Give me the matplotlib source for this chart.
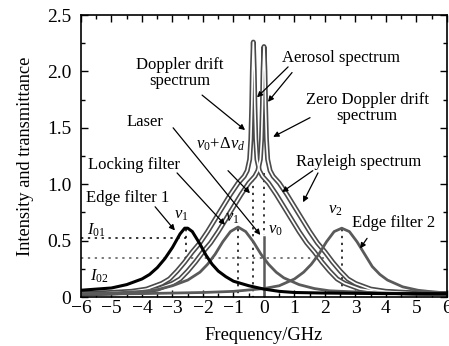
import matplotlib
matplotlib.use("Agg")
import matplotlib.pyplot as plt
from matplotlib.ticker import MultipleLocator

plt.rcParams["font.family"] = ["Liberation Serif", "DejaVu Serif"]
plt.rcParams["mathtext.fontset"] = "custom"
plt.rcParams["mathtext.rm"] = "Liberation Serif"
plt.rcParams["mathtext.it"] = "Liberation Serif:italic"

# --- data ---
edge1_freq = [-6, -5.5, -5, -4.5, -4, -3.75, -3.5, -3.25, -3, -2.75, -2.6, -2.5, -2.35,
              -2.1, -1.9, -1.7, -1.5, -1.25, -1, -0.5, 0, 0.5, 1, 2, 4, 6]
edge1_val = [0.06, 0.07, 0.08, 0.11, 0.16, 0.2, 0.26, 0.34, 0.44, 0.56, 0.61, 0.61, 0.58,
             0.47, 0.37, 0.29, 0.23, 0.18, 0.14, 0.10, 0.07, 0.05, 0.04, 0.035, 0.03, 0.03]

lock_freq = [-6, -5, -4, -3.5, -3, -2.5, -2.1, -1.85, -1.6, -1.35, -1.1, -0.85, -0.6,
             -0.35, -0.1, 0.15, 0.4, 0.65, 1.15, 1.65, 2.15, 3, 4, 5, 6]
lock_val = [0.03, 0.035, 0.05, 0.065, 0.1, 0.15, 0.22, 0.29, 0.38, 0.49, 0.58, 0.62, 0.58,
            0.49, 0.38, 0.29, 0.22, 0.17, 0.11, 0.075, 0.055, 0.045, 0.035, 0.03, 0.03]

edge2_freq = [-6, -4, -2, -1, 0, 0.5, 1, 1.3, 1.55, 1.8, 2.05, 2.3, 2.55, 2.8, 3.05,
              3.3, 3.55, 3.8, 4.05, 4.55, 5.05, 5.55, 6]
edge2_val = [0.025, 0.03, 0.04, 0.05, 0.075, 0.1, 0.16, 0.22, 0.29, 0.38, 0.49, 0.58, 0.61,
             0.58, 0.49, 0.38, 0.27, 0.2, 0.15, 0.09, 0.06, 0.045, 0.035]

laser_freq = [0, 0]
laser_val = [0, 0.53]

zero_freq = [-6, -5, -4, -3.5, -3, -2.75, -2.5, -2.25, -2, -1.75, -1.5, -1.25, -1, -0.75,
             -0.5, -0.3, -0.2, -0.12, -0.08, -0.05, -0.03, 0, 0.03, 0.05, 0.08, 0.12, 0.2,
             0.3, 0.5, 0.75, 1, 1.25, 1.5, 1.75, 2, 2.25, 2.5, 2.75, 3, 3.5, 4, 5, 6]
zero_val = [0.03, 0.035, 0.05, 0.07, 0.12, 0.16, 0.23, 0.31, 0.4, 0.48, 0.58, 0.69, 0.8, 0.91,
            1.01, 1.07, 1.12, 1.22, 1.4, 1.7, 2.0, 2.22, 2.0, 1.7, 1.4, 1.22, 1.12,
            1.07, 1.01, 0.91, 0.8, 0.69, 0.58, 0.48, 0.4, 0.31, 0.23, 0.16, 0.12, 0.07, 0.05, 0.035, 0.03]

drift_freq = [-6, -5.35, -4.35, -3.85, -3.35, -3.1, -2.85, -2.6, -2.35, -2.1, -1.85, -1.6,
              -1.35, -1.1, -0.85, -0.65, -0.55, -0.47, -0.43, -0.4, -0.38, -0.35, -0.32,
              -0.3, -0.27, -0.23, -0.15, -0.05, 0.15, 0.4, 0.65, 0.9, 1.15, 1.4, 1.65, 1.9,
              2.15, 2.4, 2.65, 3.15, 3.65, 4.65, 6]
drift_val = [0.03, 0.035, 0.05, 0.07, 0.12, 0.16, 0.23, 0.31, 0.4, 0.48, 0.58, 0.69,
             0.8, 0.91, 1.01, 1.07, 1.12, 1.22, 1.4, 1.7, 2.0, 2.26, 2.0,
             1.7, 1.4, 1.22, 1.12, 1.07, 1.01, 0.91, 0.8, 0.69, 0.58, 0.48, 0.4, 0.31,
             0.23, 0.16, 0.12, 0.07, 0.05, 0.035, 0.03]

x_ticks = [-6, -5, -4, -3, -2, -1, 0, 1, 2, 3, 4, 5, 6]
y_ticks = [0, 0.5, 1.0, 1.5, 2.0, 2.5]
y_tick_labels = ["0", "0.5", "1.0", "1.5", "2.0", "2.5"]

fig = plt.figure(figsize=(4.49, 3.46), dpi=100)
ax = fig.add_axes([0.1804, 0.1416, 0.8151, 0.815])

gray = "#4a4a4a"
dot = (0, (1.5, 3))

# reference levels and marker lines
ax.plot([-6, -2.55], [0.52, 0.52], color="k", lw=1.1, ls=dot)
ax.plot([-6, 2.0], [0.35, 0.35], color="#555555", lw=1.1, ls=dot)
ax.plot([-2.55, -2.55], [0.6, 0.35], color="k", lw=1.1, ls=dot)
ax.plot([-0.85, -0.85], [0.6, 0], color="k", lw=1.1, ls=dot)
ax.plot([-0.35, -0.35], [1.05, 0], color="k", lw=1.1, ls=dot)
ax.plot([0, 0], [1.1, 0.55], color="k", lw=1.1, ls=dot)
ax.plot([2.55, 2.55], [0.6, 0], color="k", lw=1.1, ls=dot)

# hollow-looking broad spectra
for fx, fy in [(drift_freq, drift_val), (zero_freq, zero_val)]:
    ax.plot(fx, fy, color=gray, lw=3.6, solid_joinstyle="round")
for fx, fy in [(drift_freq, drift_val), (zero_freq, zero_val)]:
    ax.plot(fx, fy, color="white", lw=1.2, solid_joinstyle="round")

ax.plot(lock_freq, lock_val, color="#5a5a5a", lw=2.0)
ax.plot(edge2_freq, edge2_val, color="#5a5a5a", lw=2.0)
ax.plot(laser_freq, laser_val, color="#5a5a5a", lw=1.8)
ax.plot(edge1_freq, edge1_val, color="k", lw=2.2)

ax.set_xlim(-6, 6)
ax.set_ylim(0, 2.5)
ax.set_xticks(x_ticks)
ax.set_yticks(y_ticks)
ax.set_yticklabels(y_tick_labels)
ax.xaxis.set_minor_locator(MultipleLocator(0.5))
ax.yaxis.set_minor_locator(MultipleLocator(0.25))
ax.tick_params(which="both", direction="in", top=True, right=True, width=1.0)
ax.tick_params(which="major", length=5, labelsize=14)
ax.tick_params(axis="x", which="major", pad=2)
ax.tick_params(axis="y", which="major", pad=7)
ax.tick_params(which="minor", length=3)
for s in ax.spines.values():
    s.set_linewidth(1.2)

ax.set_xlabel("Frequency/GHz", fontsize=13.3, labelpad=7)
ax.set_ylabel("Intensity and transmittance", fontsize=13.2, labelpad=9)

fs = 12
arrow = dict(arrowstyle="-|>", lw=0.9, color="k", mutation_scale=8, shrinkA=0, shrinkB=0)

ax.text(-2.75, 1.99, "Doppler drift\nspectrum", fontsize=fs, ha="center", va="center", linespacing=1.0)
ax.annotate("", xy=(-0.62, 1.48), xytext=(-2.03, 1.79), arrowprops=arrow)

ax.text(2.52, 2.12, "Aerosol spectrum", fontsize=fs, ha="center", va="center")
ax.annotate("", xy=(-0.23, 1.77), xytext=(0.79, 2.04), arrowprops=arrow)
ax.annotate("", xy=(0.13, 1.73), xytext=(0.92, 1.99), arrowprops=arrow)

ax.text(3.38, 1.68, "Zero Doppler drift\nspectrum", fontsize=fs, ha="center", va="center", linespacing=1.0)
ax.annotate("", xy=(0.3, 1.42), xytext=(1.51, 1.59), arrowprops=arrow)

ax.text(-3.9, 1.55, "Laser", fontsize=fs, ha="center", va="center")
ax.annotate("", xy=(-0.12, 0.55), xytext=(-2.98, 1.5), arrowprops=arrow)

ax.text(-4.26, 1.17, "Locking filter", fontsize=fs, ha="center", va="center")
ax.annotate("", xy=(-1.28, 0.64), xytext=(-2.85, 1.1), arrowprops=arrow)

ax.text(-1.41, 1.35, r"$\nu_0\!+\!\Delta\nu_d$", fontsize=fs, ha="center", va="center")
ax.annotate("", xy=(-0.46, 0.92), xytext=(-1.18, 1.12), arrowprops=arrow)

ax.text(3.09, 1.2, "Rayleigh spectrum", fontsize=fs, ha="center", va="center")
ax.annotate("", xy=(0.59, 0.93), xytext=(1.6, 1.12), arrowprops=arrow)
ax.annotate("", xy=(1.28, 0.84), xytext=(1.77, 1.1), arrowprops=arrow)

ax.text(-4.46, 0.88, "Edge filter 1", fontsize=fs, ha="center", va="center")
ax.annotate("", xy=(-2.92, 0.59), xytext=(-3.57, 0.8), arrowprops=arrow)

ax.text(4.26, 0.66, "Edge filter 2", fontsize=fs, ha="center", va="center")
ax.annotate("", xy=(3.15, 0.43), xytext=(3.38, 0.52), arrowprops=arrow)

ax.text(-2.7, 0.73, r"$\nu_1$", fontsize=fs, ha="center", va="center")
ax.text(-1.05, 0.7, r"$\nu_1$", fontsize=fs, ha="center", va="center")
ax.text(0.36, 0.59, r"$\nu_0$", fontsize=fs, ha="center", va="center")
ax.text(2.33, 0.77, r"$\nu_2$", fontsize=fs, ha="center", va="center")
ax.text(-5.5, 0.59, r"$I_{01}$", fontsize=fs, ha="center", va="center")
ax.text(-5.4, 0.18, r"$I_{02}$", fontsize=fs, ha="center", va="center")

fig.savefig("out.png", dpi=100)
